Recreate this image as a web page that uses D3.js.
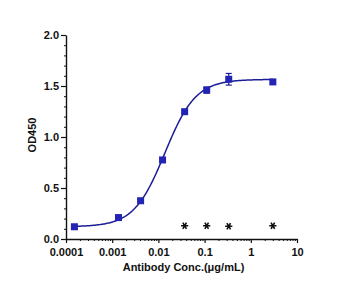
<!DOCTYPE html>
<html>
<head>
<meta charset="utf-8">
<script src="https://cdn.jsdelivr.net/npm/d3@7"></script>
<style>
  body { margin: 0; background: #fff; }
  svg text { font-family: Arial, "Liberation Sans", sans-serif; font-weight: bold; fill: #111; }
</style>
</head>
<body>
<div id="chart"></div>
<script>
// antibody concentrations (ug/mL) and OD450 readings
var conc = [0.000152, 0.00137, 0.00412, 0.0123, 0.0370, 0.111, 0.333, 3];
var od = [0.12, 0.21, 0.375, 0.775, 1.248, 1.46, 1.566, 1.54];
var odErr = [0.01, 0.01, 0.01, 0.012, 0.012, 0.03, 0.057, 0.018];

// negative control
var ctrlConc = [0.0370, 0.111, 0.333, 3];
var ctrlOd = [0.13, 0.13, 0.125, 0.13];

// 4PL fit: bottom, top, EC50, hill slope
var fitBottom = 0.12, fitTop = 1.565, fitEC50 = 0.0138, fitHill = 1.3;

var xTicks = [0.0001, 0.001, 0.01, 0.1, 1, 10];
var xTickLabels = ["0.0001", "0.001", "0.01", "0.1", "1", "10"];
var yTicks = [0, 0.5, 1.0, 1.5, 2.0];

function init(){
	var w = 350;
	var h = 298;
	var margin = {top: 35, right: 53, bottom: 59, left: 66};

	var svg = d3.select("#chart")
				.append("svg")
				.attr("width", w)
				.attr("height", h);

	var x = d3.scaleLog()
				.domain([0.0001, 10])
				.range([margin.left, w - margin.right]);
	var y = d3.scaleLinear()
				.domain([0, 2])
				.range([h - margin.bottom, margin.top]);

	var navy = "#1c1c96";
	var markBlue = "#2323b4";

	//minor ticks on the log axis
	var minor = [];
	for (var e = -4; e < 1; e++) {
		for (var m = 2; m <= 9; m++) minor.push(m * Math.pow(10, e));
	}

	//x axis
	var xAxis = svg.append("g")
		.attr("transform", "translate(0," + (h - margin.bottom) + ")");
	xAxis.append("g")
		.call(d3.axisBottom(x).tickValues(minor).tickSize(2).tickFormat(""))
		.call(function(g){ g.select(".domain").remove(); })
		.selectAll("line").attr("stroke", "#111").attr("stroke-width", 1);
	xAxis.append("g")
		.call(d3.axisBottom(x).tickValues(xTicks).tickSize(4).tickSizeOuter(0)
			.tickFormat(function(d, i){ return xTickLabels[i]; }))
		.call(function(g){
			g.select(".domain").attr("stroke", "#111").attr("stroke-width", 1.4);
			g.selectAll("line").attr("stroke", "#111").attr("stroke-width", 1.2);
			g.selectAll("text").attr("font-size", 11).attr("dy", "0.95em");
		});

	//y axis
	var yMinor = d3.range(0, 2.01, 0.1);
	var yAxis = svg.append("g")
		.attr("transform", "translate(" + margin.left + ",0)");
	yAxis.append("g")
		.call(d3.axisLeft(y).tickValues(yMinor).tickSize(2).tickFormat(""))
		.call(function(g){ g.select(".domain").remove(); })
		.selectAll("line").attr("stroke", "#111");
	yAxis.append("g")
		.call(d3.axisLeft(y).tickValues(yTicks).tickSize(5).tickSizeOuter(0)
			.tickFormat(d3.format(".1f")))
		.call(function(g){
			g.select(".domain").attr("stroke", "#111").attr("stroke-width", 1.4);
			g.selectAll("line").attr("stroke", "#111").attr("stroke-width", 1.2);
			g.selectAll("text").attr("font-size", 11).attr("x", -7);
		});

	//axis titles
	svg.append("text")
		.attr("x", (margin.left + w - margin.right) / 2 + 2)
		.attr("y", 271)
		.attr("text-anchor", "middle")
		.attr("font-size", 11)
		.text("Antibody Conc.(μg/mL)");
	svg.append("text")
		.attr("transform", "translate(36," + 135 + ") rotate(-90)")
		.attr("text-anchor", "middle")
		.attr("font-size", 11)
		.text("OD450");

	//fitted curve
	var fitX = d3.range(-3.85, 0.5, 0.02).map(function(v){ return Math.pow(10, v); });
	var line = d3.line()
		.x(function(d){ return x(d); })
		.y(function(d){
			return y(fitBottom + (fitTop - fitBottom) / (1 + Math.pow(fitEC50 / d, fitHill)));
		});
	svg.append("path")
		.datum(fitX)
		.attr("d", line)
		.attr("fill", "none")
		.attr("stroke", navy)
		.attr("stroke-width", 1.5);

	//error bars
	var pts = conc.map(function(c, i){ return {c: c, v: od[i], e: odErr[i]}; });
	var eb = svg.selectAll("g.err")
		.data(pts)
		.enter()
		.append("g")
		.attr("class", "err")
		.attr("stroke", navy)
		.attr("stroke-width", 1.2);
	eb.append("line")
		.attr("x1", function(d){ return x(d.c); })
		.attr("x2", function(d){ return x(d.c); })
		.attr("y1", function(d){ return y(d.v - d.e); })
		.attr("y2", function(d){ return y(d.v + d.e); });
	eb.append("line")
		.attr("x1", function(d){ return x(d.c) - 3; })
		.attr("x2", function(d){ return x(d.c) + 3; })
		.attr("y1", function(d){ return y(d.v + d.e); })
		.attr("y2", function(d){ return y(d.v + d.e); });
	eb.append("line")
		.attr("x1", function(d){ return x(d.c) - 3; })
		.attr("x2", function(d){ return x(d.c) + 3; })
		.attr("y1", function(d){ return y(d.v - d.e); })
		.attr("y2", function(d){ return y(d.v - d.e); });

	//square markers
	svg.selectAll("rect.pt")
		.data(pts)
		.enter()
		.append("rect")
		.attr("class", "pt")
		.attr("x", function(d){ return x(d.c) - 3.5; })
		.attr("y", function(d){ return y(d.v) - 3.5; })
		.attr("width", 7)
		.attr("height", 7)
		.attr("fill", markBlue);

	//negative control stars
	var star = d3.symbol().type(d3.symbolAsterisk).size(36);
	svg.selectAll("path.ctrl")
		.data(ctrlConc)
		.enter()
		.append("path")
		.attr("class", "ctrl")
		.attr("d", star)
		.attr("transform", function(d, i){
			return "translate(" + x(d) + "," + y(ctrlOd[i]) + ") rotate(90)";
		})
		.attr("fill", "none")
		.attr("stroke", "#111")
		.attr("stroke-width", 1.6);
}

window.onload = init;
</script>
</body>
</html>
